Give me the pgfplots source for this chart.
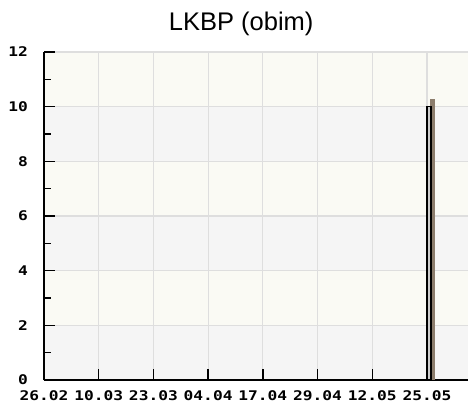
\documentclass[border=0pt]{standalone}
\usepackage{fontspec}
\setmainfont{Liberation Sans}
\newfontfamily\tickfont[FakeStretch=1.22]{DejaVu Sans Mono}
\usepackage{pgfplots}
\pgfplotsset{compat=1.18}
\definecolor{bandgray}{RGB}{245,245,245}
\definecolor{bandivory}{RGB}{250,250,244}
\definecolor{gridc}{RGB}{222,222,222}
\definecolor{shadowc}{RGB}{140,125,108}
\definecolor{barfill}{RGB}{205,205,205}
\begin{document}
\begin{tikzpicture}
\begin{axis}[name=ax, set layers, scale only axis,
  width=424bp, height=328bp,
  xmin=0, xmax=7.75, ymin=0, ymax=12,
  axis x line*=bottom, axis y line*=left,
  axis line style={line width=1.5bp, black},
  xtick={0,...,7},
  xticklabels={26.02,10.03,23.03,04.04,17.04,29.04,12.05,25.05},
  ytick={0,2,...,12}, minor y tick num=1,
  tick align=inside, major tick length=11bp, minor tick length=7bp,
  tick style={line width=1.5bp, black},
  grid=major, major grid style={gridc, line width=1.2bp},
  ticklabel style={font=\tickfont\bfseries\fontsize{13.3bp}{14bp}\selectfont, inner sep=0pt},
  yticklabel style={anchor=east, xshift=-16bp},
  xticklabel style={anchor=north, yshift=-10bp},
  /pgf/number format/assume math mode=true,
  title={LKBP (obim)},
  title style={font=\fontsize{25.5bp}{30bp}\selectfont, at={(0.465,1)}, anchor=base, yshift=15.5bp, inner sep=0pt},
]
\addplot[draw=none, fill=bandgray, on layer=axis background, forget plot] coordinates {(0,0) (7.75,0) (7.75,2) (0,2)} -- cycle;
\addplot[draw=none, fill=bandivory, on layer=axis background, forget plot] coordinates {(0,2) (7.75,2) (7.75,4) (0,4)} -- cycle;
\addplot[draw=none, fill=bandgray, on layer=axis background, forget plot] coordinates {(0,4) (7.75,4) (7.75,6) (0,6)} -- cycle;
\addplot[draw=none, fill=bandivory, on layer=axis background, forget plot] coordinates {(0,6) (7.75,6) (7.75,8) (0,8)} -- cycle;
\addplot[draw=none, fill=bandgray, on layer=axis background, forget plot] coordinates {(0,8) (7.75,8) (7.75,10) (0,10)} -- cycle;
\addplot[draw=none, fill=bandivory, on layer=axis background, forget plot] coordinates {(0,10) (7.75,10) (7.75,12) (0,12)} -- cycle;
% bar shadow
\addplot[ybar, bar width=5.5bp, bar shift=5.75bp, fill=shadowc, draw=none] coordinates {(7,10.28)};
% bar
\addplot[ybar, bar width=4bp, bar shift=2bp, fill=barfill, draw=black, line width=1.2bp] coordinates {(7,10)};
\end{axis}
\pgfresetboundingbox
\useasboundingbox ([shift={(-44bp,-23bp)}]ax.south west) rectangle ([shift={(0bp,52bp)}]ax.north east);
\end{tikzpicture}
\end{document}
